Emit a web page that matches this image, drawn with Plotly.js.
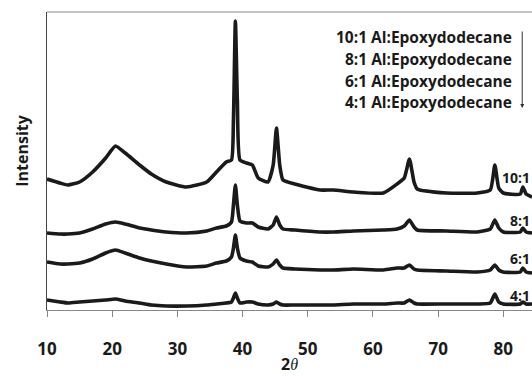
<!DOCTYPE html>
<html>
<head>
<meta charset="utf-8">
<script src="https://cdn.plot.ly/plotly-3.0.1.min.js"></script>
<style>html,body{margin:0;padding:0;background:#fff;}#chart{width:532px;height:377px;}</style>
</head>
<body>
<div id="chart"></div>
<script>
// 2θ positions (degrees) at which the patterns were read
const twoTheta = [10, 12, 13.2, 15, 17, 19, 20.5, 22, 24.2, 26, 28.3, 31.4, 34.5, 36, 37.5, 38.3, 38.6, 38.9, 39.2, 39.6, 40.6, 41.5, 42.4, 43.9, 44.7, 45.2, 45.7, 46.2, 48, 51.9, 53.9, 57, 61.6, 63.7, 64.8, 65.6, 66.3, 66.8, 71.3, 76, 78, 78.7, 79.3, 80, 82.6, 83, 83.5, 84.4];
// intensities (arbitrary units, stacked offsets included)
const ratio10 = [131, 127, 125, 128, 138, 152, 164, 157, 145, 136, 128, 123, 128, 138, 148, 150, 190, 289, 210, 150, 147, 145, 132, 128, 145, 182, 145, 130, 126, 120, 120, 118, 117, 126, 132, 151, 128, 121, 117, 117, 120, 145, 122, 117, 116, 123, 116, 113];
const ratio8  = [77, 76, 76, 77, 81, 86, 88, 86, 82, 80, 78, 77, 79, 82, 84, 88, 105, 125, 105, 89, 87, 87, 83, 81, 85, 93, 85, 81, 80, 78, 78, 79, 80, 81, 84, 90, 83, 80, 79, 78, 81, 90, 82, 78, 78, 82, 78, 77];
const ratio6  = [48, 46, 46, 47, 51, 57, 60, 57, 52, 49, 46, 43, 44, 47, 49, 53, 62, 75, 62, 52, 49, 48, 44, 43, 46, 50, 45, 42, 41, 40, 40, 41, 40, 42, 42, 45, 41, 40, 39, 38, 40, 45, 40, 38, 38, 42, 38, 37];
const ratio4  = [10, 8, 7, 8, 9, 10, 11, 9, 7, 5, 4, 4, 5, 6, 7, 8, 12, 17, 12, 7, 8, 8, 6, 5, 6, 8, 6, 5, 5, 5, 5, 6, 6, 7, 7, 10, 7, 6, 6, 6, 7, 16, 8, 6, 6, 8, 6, 6];

const seriesNames = ['10:1', '8:1', '6:1', '4:1'];
const seriesData = [ratio10, ratio8, ratio6, ratio4];
const legendLines = ['10:1 Al:Epoxydodecane', '8:1 Al:Epoxydodecane', '6:1 Al:Epoxydodecane', '4:1 Al:Epoxydodecane'];
const xTicks = [10, 20, 30, 40, 50, 60, 70, 80];

const FONT = '"Open Sans", Lato, sans-serif';
const INK = '#1a1a1a';
const traces = seriesData.map((ys, i) => ({
  type: 'scatter', mode: 'lines', x: twoTheta, y: ys, name: seriesNames[i],
  line: {color: INK, width: 3.6, shape: 'spline', smoothing: 0.5}, showlegend: false, hoverinfo: 'skip'
}));

// series labels at the right end of each trace
const labelY = [133, 90, 52, 15];
const annotations = seriesNames.map((n, i) => ({
  x: 1, y: labelY[i], xref: 'paper', yref: 'y', text: n, showarrow: false,
  xanchor: 'right', yanchor: 'middle', font: {family: FONT, size: 14, color: INK, weight: 'bold'}
}));
const legY = [273, 251, 229, 208];
legendLines.forEach((t, i) => annotations.push({
  x: 81.6, y: legY[i], xref: 'x', yref: 'y', text: t, showarrow: false,
  xanchor: 'right', yanchor: 'middle', font: {family: FONT, size: 15.5, color: INK, weight: 'bold'}
}));
annotations.push({
  x: 82.9, y: 202, ax: 82.9, ay: 280, xref: 'x', yref: 'y', axref: 'x', ayref: 'y',
  text: '', showarrow: true, arrowhead: 2, arrowsize: 0.8, arrowwidth: 1, arrowcolor: '#333'
});
// y-axis title
annotations.push({
  x: -0.052, y: 0.537, xref: 'paper', yref: 'paper', text: 'Intensity', textangle: -90, showarrow: false,
  xanchor: 'center', yanchor: 'middle', font: {family: FONT, size: 16, color: INK, weight: 'bold'}
});
// x-axis title
annotations.push({
  x: 0.5, y: -0.182, xref: 'paper', yref: 'paper', showarrow: false, xanchor: 'center', yanchor: 'middle',
  text: '2<span style="font-family:\'Liberation Serif\';font-style:italic;font-weight:normal">θ</span>',
  font: {family: FONT, size: 16, color: INK, weight: 'bold'}
});

const layout = {
  width: 532, height: 377,
  margin: {l: 47, r: 0, t: 12, b: 67},
  paper_bgcolor: '#fff', plot_bgcolor: '#fff',
  xaxis: {
    range: [10, 84.4], tickvals: xTicks, ticktext: xTicks.map(String),
    showgrid: false, zeroline: false, showline: true, linecolor: '#888', linewidth: 1,
    ticks: 'outside', ticklen: 6, tickcolor: '#888', ticklabelstandoff: 18,
    tickfont: {family: FONT, size: 17, color: INK, weight: 'bold'}
  },
  yaxis: {
    range: [0, 298], showticklabels: false, ticks: '', showgrid: false, zeroline: false,
    showline: true, linecolor: '#444', linewidth: 1
  },
  shapes: [{type: 'line', xref: 'paper', yref: 'paper', x0: 0, x1: 1, y0: 1, y1: 1, line: {color: '#888', width: 1}}],
  annotations: annotations
};
Plotly.newPlot('chart', traces, layout, {staticPlot: true, displayModeBar: false});
</script>
</body>
</html>
